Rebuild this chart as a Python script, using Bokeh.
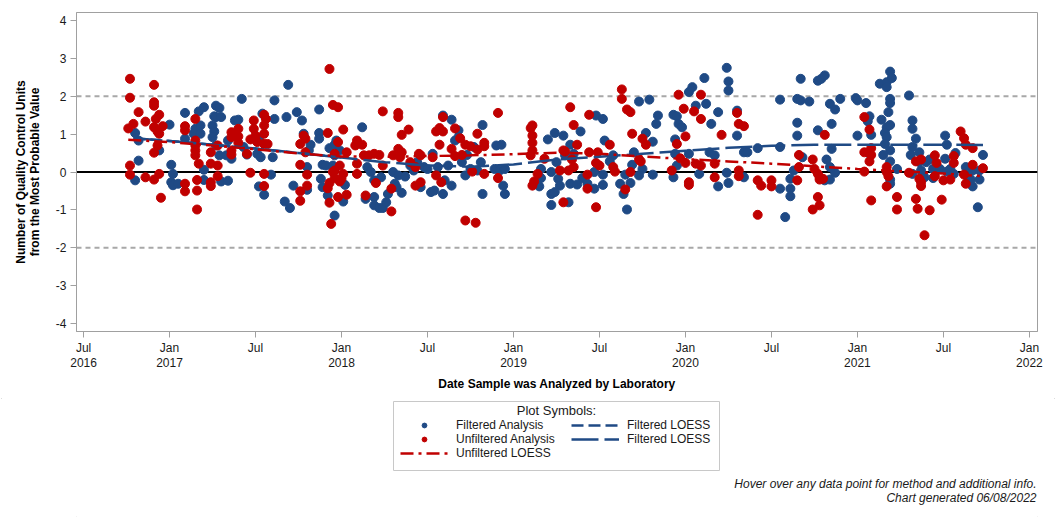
from bokeh.plotting import figure
from bokeh.layouts import column
from bokeh.models import Range1d, FixedTicker, Span, Legend, LegendItem, Label
from bokeh.embed import file_html
from bokeh.resources import INLINE

FONT = "Liberation Sans"
BLUE = "#1f4a85"
RED = "#c00000"
TXT = "#1a1a1a"

# ---------------- data (decimal year, QC units from MPV) ----------------
filtered_year = [
    2016.80, 2016.82, 2016.82, 2016.80, 2016.94, 2017.00, 2017.01, 2017.02, 2017.01, 2017.02,
    2017.05, 2017.09, 2017.09, 2017.14, 2017.15, 2017.17, 2017.20, 2017.18, 2017.18, 2017.20,
    2017.20, 2017.27, 2017.29, 2017.26, 2017.27, 2017.30, 2017.25, 2017.26, 2017.25, 2017.27,
    2017.29, 2017.30, 2017.34, 2017.34, 2017.33, 2017.36, 2017.38, 2017.40, 2017.42, 2017.43,
    2017.45, 2017.51, 2017.52, 2017.54, 2017.53, 2017.52, 2017.55, 2017.59, 2017.60, 2017.61,
    2017.61, 2017.68, 2017.69, 2017.72, 2017.67, 2017.70, 2017.74, 2017.77, 2017.78, 2017.82,
    2017.81, 2017.80, 2017.80, 2017.87, 2017.87, 2017.87, 2017.93, 2017.96, 2017.97, 2017.89,
    2017.91, 2017.95, 2017.88, 2017.89, 2017.92, 2017.96, 2017.96,
    2017.99, 2018.02, 2018.01, 2018.12, 2018.15, 2018.17, 2018.14,
    2018.19, 2018.19, 2018.19, 2018.22, 2018.24, 2018.23, 2018.26, 2018.27, 2018.30, 2018.31,
    2018.32, 2018.33, 2018.35, 2018.37, 2018.40, 2018.42, 2018.44, 2018.48, 2018.50, 2018.46,
    2018.52, 2018.53, 2018.54, 2018.56, 2018.59, 2018.59, 2018.60, 2018.62, 2018.64, 2018.64,
    2018.66, 2018.68, 2018.68, 2018.70, 2018.72, 2018.73, 2018.75, 2018.77, 2018.79, 2018.82,
    2018.82, 2018.81, 2018.89, 2018.90, 2018.93, 2018.92, 2018.94, 2018.95, 2018.95, 2019.16,
    2019.16, 2019.15, 2019.20, 2019.22, 2019.22, 2019.24, 2019.25, 2019.26, 2019.27, 2019.29,
    2019.30, 2019.32, 2019.33, 2019.22, 2019.24,
    2019.33, 2019.35, 2019.39, 2019.37, 2019.40, 2019.43,
    2019.47, 2019.47, 2019.48, 2019.52, 2019.52, 2019.52, 2019.53, 2019.56, 2019.58, 2019.62,
    2019.64, 2019.65, 2019.68, 2019.66, 2019.70, 2019.69, 2019.73, 2019.75, 2019.73, 2019.77,
    2019.79, 2019.81, 2019.83, 2019.84, 2019.81, 2019.93, 2019.95, 2019.96, 2019.98, 2019.94,
    2019.94, 2019.93, 2019.95, 2020.02, 2020.04, 2020.06, 2020.02, 2020.08, 2020.11, 2020.12,
    2020.15, 2020.14, 2020.17, 2020.19, 2020.19, 2020.24, 2020.25, 2020.25, 2020.24, 2020.25,
    2020.30, 2020.30, 2020.34, 2020.36, 2020.34, 2020.42, 2020.55, 2020.55, 2020.55, 2020.58,
    2020.61, 2020.61, 2020.61, 2020.63, 2020.65, 2020.65, 2020.65,
    2020.67, 2020.67, 2020.68, 2020.72, 2020.77, 2020.77, 2020.79, 2020.81, 2020.84, 2020.87,
    2020.90, 2020.85, 2020.85, 2020.82, 2020.84, 2020.87, 2020.84, 2020.81, 2020.99, 2021.00,
    2021.00, 2021.05, 2021.07, 2021.06, 2021.08, 2021.07, 2021.13, 2021.14, 2021.17, 2021.17,
    2021.19, 2021.20, 2021.19, 2021.19, 2021.18, 2021.19, 2021.17, 2021.16, 2021.17, 2021.16,
    2021.19, 2021.15, 2021.19, 2021.19, 2021.19, 2021.23, 2021.30, 2021.32, 2021.32, 2021.34,
    2021.32, 2021.31, 2021.36, 2021.36, 2021.32, 2021.37, 2021.39, 2021.40, 2021.42, 2021.44,
    2021.44, 2021.46, 2021.48, 2021.51, 2021.52, 2021.51, 2021.52, 2021.54, 2021.57, 2021.56,
    2021.63, 2021.64, 2021.67, 2021.66, 2021.67, 2021.73, 2021.71, 2021.71, 2021.70,
]
filtered_value = [
    1.03, 0.83, 0.30, -0.22, 0.57, 1.25, 0.19, -0.05, -0.27, -0.35,
    -0.31, 1.56, 0.88, 1.01, 1.14, 1.60, 1.71, 1.23, 1.01, 0.06,
    -0.21, 1.75, 1.69, 1.47, 1.45, 1.45, 1.23, 1.07, 0.92, 0.70,
    0.44, -0.25, -0.23, 0.83, 0.44, 0.35, 1.36, 1.38, 1.93, 0.66,
    0.46, 0.48, 0.86, 1.54, 0.39, -0.38, -0.60, -0.07, 0.39, 1.89,
    1.40, 1.45, 2.30, -0.36, -0.78, -0.95, 1.58, 1.36, 1.01, 0.72,
    0.57, 0.13, -0.47, 1.65, 1.03, 0.88, 0.63, 0.72, 0.83, 0.19,
    0.17, 0.17, -0.18, -0.40, -0.62, -1.15, 0.44,
    0.57, -0.34, -0.78, 1.18, 0.13, 0.00, -0.71,
    -0.66, -0.22, -0.88, -0.95, -0.95, -0.14, -0.80, -0.58, 0.00, -0.31,
    -0.40, -0.09, -0.55, -0.12, 0.17, 0.04, 0.26, 0.13, 0.08, -0.40,
    -0.53, 0.48, -0.49, 0.13, 1.49, -0.58, -0.22, 0.17, -0.36, 1.38,
    0.83, 1.10, 0.92, 0.26, -0.09, 0.45, 0.08, 0.66, 0.04, 1.24,
    -0.58, 0.26, 0.08, 0.70, 0.72, 0.04, -0.36, -0.58, 0.08, 0.08,
    -0.16, -0.38, 0.86, -0.58, -0.87, 1.03, 0.26, -0.18, -0.36, 0.96,
    0.44, -0.80, -0.31, 0.00, -0.53,
    0.72, 0.48, 1.07, -0.33, -0.16, -0.31,
    -0.44, 0.00, 1.49, 1.40, -0.07, -0.34, 0.83, 0.28, 0.44, -0.31,
    -0.58, -0.07, -0.29, -0.99, 0.52, 0.19, 1.86, 0.08, -0.09, 1.03,
    1.91, 0.80, 1.27, 1.49, -0.07, 1.51, 1.47, 1.27, 1.18, 0.86,
    0.48, -0.14, 0.17, 2.11, 2.24, 1.75, 0.48, -0.05, 2.48, 1.80,
    1.27, 0.52, 0.44, 1.58, -0.38, 2.75, 2.39, 2.15, -0.02, -0.29,
    1.62, 0.96, 0.52, 0.52, -0.14, 0.63, 1.91, 0.66, -0.44, -1.19,
    -0.18, -0.44, -0.64, 0.04, 1.93, 1.30, 0.96,
    2.46, 1.89, 0.39, 1.86, 1.10, 2.41, 2.46, 2.55, 1.80, 1.65,
    1.93, 1.27, 0.61, 0.33, 0.13, -0.02, -0.20, -0.22, 1.95, 1.89,
    0.96, 1.82, 1.47, 1.34, 0.98, 0.48, 2.33, 1.38, 2.37, 2.24,
    2.65, 2.48, 1.93, 1.82, 1.58, 1.24, 1.18, 1.03, 0.92, 0.74,
    0.57, 0.45, 0.28, -0.20, -0.31, 0.08, 2.02, 1.36, 1.14, 0.88,
    0.66, 0.45, 0.52, 0.26, -0.05, 0.04, -0.14, 0.26, 0.33, 0.08,
    -0.16, 0.04, 0.08, 0.96, 0.72, 0.35, 0.01, 0.08, 0.50, -0.05,
    0.13, -0.11, 0.04, -0.20, -0.38, 0.45, 0.04, -0.20, -0.93,
]

unfiltered_year = [
    2016.77, 2016.77, 2016.82, 2016.76, 2016.79, 2016.77, 2016.77, 2016.86, 2016.91, 2016.91,
    2016.91, 2016.94, 2016.92, 2016.91, 2016.93, 2016.94, 2016.96, 2016.86, 2016.93, 2016.91,
    2016.94, 2016.91, 2016.95, 2017.09, 2017.09, 2017.15, 2017.15, 2017.15, 2017.15, 2017.15,
    2017.17, 2017.09, 2017.09, 2017.16, 2017.16, 2017.16, 2017.24, 2017.24, 2017.28, 2017.28,
    2017.28, 2017.24, 2017.24, 2017.36, 2017.36, 2017.36, 2017.36, 2017.40, 2017.40, 2017.40,
    2017.45, 2017.47, 2017.49, 2017.49, 2017.50, 2017.51, 2017.47, 2017.55, 2017.56, 2017.55,
    2017.55, 2017.55, 2017.57, 2017.55, 2017.55, 2017.76, 2017.78, 2017.79, 2017.79, 2017.76,
    2017.80, 2017.80, 2017.76, 2017.76, 2017.92, 2017.93, 2017.95, 2017.98, 2017.95, 2017.96,
    2017.93, 2017.92, 2017.93, 2017.94, 2017.98, 2017.98, 2017.99,
    2018.01, 2017.96, 2017.99, 2017.96, 2018.00, 2018.01, 2018.03, 2018.03, 2018.08, 2018.09,
    2018.12, 2018.09, 2018.09, 2018.13, 2018.16, 2018.19, 2018.22, 2018.20, 2018.14, 2018.24,
    2018.24, 2018.30, 2018.29, 2018.29, 2018.33, 2018.33, 2018.35, 2018.33, 2018.35, 2018.34,
    2018.39, 2018.40, 2018.43, 2018.45, 2018.46, 2018.43, 2018.46, 2018.55, 2018.57, 2018.59,
    2018.59, 2018.57, 2018.55, 2018.53, 2018.58, 2018.64, 2018.66, 2018.66, 2018.69, 2018.70,
    2018.72, 2018.75, 2018.76, 2018.79, 2018.79, 2018.83, 2018.83, 2018.83, 2018.72, 2018.78,
    2018.91, 2018.91, 2019.10, 2019.10, 2019.11, 2019.11, 2019.11, 2019.11, 2019.14, 2019.12,
    2019.11, 2019.18, 2019.29, 2019.27, 2019.29, 2019.32, 2019.33,
    2019.30, 2019.35, 2019.34, 2019.35, 2019.37, 2019.43, 2019.43, 2019.44, 2019.44, 2019.48,
    2019.49, 2019.50, 2019.48, 2019.56, 2019.58, 2019.59, 2019.63, 2019.63, 2019.66, 2019.68,
    2019.69, 2019.68, 2019.65, 2019.75, 2019.77, 2019.73, 2019.74, 2019.92, 2019.95, 2019.96,
    2019.99, 2020.00, 2019.97, 2020.00, 2020.02, 2020.02, 2020.05, 2020.09, 2020.09, 2020.09,
    2020.06, 2020.17, 2020.17, 2020.21, 2020.30, 2020.31, 2020.34, 2020.31, 2020.31, 2020.42,
    2020.44, 2020.42, 2020.50, 2020.50, 2020.65, 2020.66, 2020.66,
    2020.74, 2020.75, 2020.77, 2020.78, 2020.80, 2020.78, 2020.77, 2020.78, 2020.74, 2020.81,
    2021.04, 2021.07, 2021.08, 2021.08, 2021.07, 2021.04, 2021.04, 2021.08, 2021.17, 2021.17,
    2021.18, 2021.17, 2021.23, 2021.23, 2021.30, 2021.34, 2021.37, 2021.36, 2021.37, 2021.37,
    2021.34, 2021.35, 2021.39, 2021.42, 2021.45, 2021.46, 2021.45, 2021.50, 2021.54, 2021.49,
    2021.56, 2021.56, 2021.60, 2021.62, 2021.63, 2021.67, 2021.67, 2021.73, 2021.62, 2021.63,
]
unfiltered_value = [
    2.46, 1.96, 1.58, 1.15, 1.27, 0.17, -0.07, -0.14, 2.30, 1.84,
    1.75, 1.51, 1.40, 1.18, 1.07, 1.01, 1.21, 1.33, 0.70, 0.51,
    -0.05, -0.20, -0.68, 1.21, 1.10, 1.40, 0.83, 0.70, 0.57, 0.44,
    0.22, -0.31, -0.51, -0.21, -0.49, -0.99, 0.52, 0.22, 0.70, 0.17,
    -0.11, -0.27, -0.37, 1.05, 0.92, 0.57, 0.46, 1.14, 0.94, 0.77,
    0.48, 0.86, 1.36, 1.14, 0.96, 0.79, -0.02, 1.51, 1.40, 1.23,
    1.01, 0.74, 0.74, -0.05, -0.37, 0.74, 0.96, 0.88, 0.52, 0.19,
    -0.07, -0.36, -0.51, -0.76, 1.03, 2.72, 1.77, 1.71, 0.00, -0.16,
    -0.29, -0.43, -0.81, -1.37, 0.79, -0.66, -0.25,
    1.12, 0.48, 0.17, 0.04, -0.18, -0.05, -0.60, 0.52, 0.70, 0.83,
    0.72, 0.22, -0.05, 0.44, 0.44, 0.48, 0.45, -0.29, -0.62, 1.60,
    0.17, 0.44, -0.44, -1.04, 1.56, 1.45, 0.98, 0.61, 0.52, 0.39,
    1.12, 0.26, 0.13, 0.48, -0.27, -0.36, 0.44, 1.07, 1.16, 1.07,
    1.45, 0.72, -0.09, 0.39, -0.27, 0.61, 0.42, 1.15, 0.89, 0.45,
    0.72, 0.68, 0.01, 1.01, 0.59, 0.77, 0.68, -0.05, -1.28, -1.34,
    1.56, -0.16, 0.44, 1.16, 1.23, 0.96, 0.77, 0.57, -0.05, -0.25,
    -0.36, 0.35, -0.80, 0.04, 0.57, 0.04, 1.71,
    0.54, 0.13, 0.33, 1.24, 0.72, -0.07, -0.44, 1.51, 0.52, 0.24,
    0.52, 0.17, -0.93, 0.72, 0.13, 0.01, 2.18, 1.93, 1.65, 1.58,
    1.01, 0.00, -0.46, 0.88, 0.72, 0.33, 0.28, 0.04, 0.74, 2.04,
    1.67, 0.94, 0.36, 0.24, -0.27, -0.34, 1.60, 2.04, 1.40, 0.17,
    0.22, 0.22, -0.14, 0.98, 1.56, 1.27, 1.21, 0.04, -0.11, -0.22,
    -0.36, -1.13, -0.22, -0.38, -0.22, 0.13, 0.45,
    0.33, 0.08, -0.05, -0.14, -0.18, -0.20, -0.66, -0.88, -0.99, 0.98,
    1.45, 1.12, 0.63, 0.45, 0.28, 0.52, 0.01, -0.75, 0.13, 0.00,
    -0.11, -0.38, -0.66, -0.99, -0.02, 0.28, 0.33, -0.18, -0.27, -0.37,
    -0.71, -0.97, -1.67, -1.01, 0.44, 0.24, -0.11, -0.22, -0.20, -0.73,
    0.42, 0.24, 1.07, 0.89, 0.72, 0.63, 0.19, 0.10, -0.07, -0.31,
]

filtered_loess_year = [2016.79, 2017.0, 2017.25, 2017.5, 2017.75, 2018.0, 2018.25, 2018.5, 2018.75,
                       2019.0, 2019.25, 2019.5, 2019.75, 2020.0, 2020.25, 2020.5, 2020.75, 2021.0,
                       2021.25, 2021.5, 2021.73]
filtered_loess_value = [0.89, 0.82, 0.72, 0.62, 0.50, 0.38, 0.26, 0.17, 0.14,
                        0.20, 0.33, 0.40, 0.48, 0.56, 0.64, 0.69, 0.72, 0.72,
                        0.72, 0.72, 0.71]
unfiltered_loess_year = [2016.76, 2017.0, 2017.25, 2017.5, 2017.75, 2018.0, 2018.25, 2018.5, 2018.75,
                         2019.0, 2019.25, 2019.5, 2019.75, 2020.0, 2020.25, 2020.5, 2020.75, 2021.0,
                         2021.25, 2021.5, 2021.73]
unfiltered_loess_value = [0.85, 0.79, 0.70, 0.60, 0.49, 0.41, 0.40, 0.42, 0.44,
                          0.47, 0.51, 0.48, 0.41, 0.34, 0.28, 0.22, 0.15, 0.08,
                          0.02, -0.04, -0.11]

x_tick_years = [2016.5, 2017.0, 2017.5, 2018.0, 2018.5, 2019.0, 2019.5, 2020.0, 2020.5,
                2021.0, 2021.5, 2022.0]
x_tick_labels = ["Jul\n2016", "Jan\n2017", "Jul", "Jan\n2018", "Jul", "Jan\n2019", "Jul",
                 "Jan\n2020", "Jul", "Jan\n2021", "Jul", "Jan\n2022"]
y_ticks = [-4, -3, -2, -1, 0, 1, 2, 3, 4]

# ---------------- main plot ----------------
p = figure(width=1056, height=398, output_backend="svg", toolbar_location=None,
           x_range=Range1d(2016.459, 2022.047), y_range=Range1d(-4.21, 4.21),
           min_border_left=76, min_border_right=19, min_border_top=12, min_border_bottom=67)
p.grid.visible = False
p.outline_line_color = "#a0a0a0"
p.outline_line_width = 1

for ax in (p.xaxis[0], p.yaxis[0]):
    ax.axis_line_color = "#a0a0a0"
    ax.major_tick_line_color = "#a0a0a0"
    ax.major_tick_out = 6
    ax.major_tick_in = 0
    ax.minor_tick_line_color = None
    ax.major_label_text_font = FONT
    ax.major_label_text_font_size = "12px"
    ax.major_label_text_color = TXT
    ax.axis_label_text_font = FONT
    ax.axis_label_text_font_size = "12px"
    ax.axis_label_text_font_style = "bold"
    ax.axis_label_text_color = "black"

p.xaxis.ticker = FixedTicker(ticks=x_tick_years)
p.xaxis.major_label_overrides = {t: l for t, l in zip(x_tick_years, x_tick_labels)}
p.xaxis.major_label_text_line_height = 1.1
p.xaxis.major_label_standoff = 3
p.xaxis.axis_label = "Date Sample was Analyzed by Laboratory"
p.xaxis.axis_label_standoff = 4

p.yaxis.ticker = FixedTicker(ticks=y_ticks)
p.yaxis.major_label_overrides = {t: str(t) for t in y_ticks}
p.yaxis.major_label_standoff = 4
p.yaxis.axis_label = "Number of Quality Control Units\nfrom the Most Probable Value"
p.yaxis.axis_label_text_line_height = 1.0
p.yaxis.axis_label_standoff = 11

for loc, col, dash in [(2, "#a8a8a8", "5 4"), (-2, "#a8a8a8", "5 4"), (0, "black", "solid")]:
    p.add_layout(Span(location=loc, dimension="width", line_color=col, line_dash=dash,
                      line_width=2, level="underlay"))

p.scatter(filtered_year, filtered_value, size=9, fill_color=BLUE, line_color=BLUE)
p.scatter(unfiltered_year, unfiltered_value, size=9, fill_color=RED, line_color=RED)
p.line(filtered_loess_year[:6], filtered_loess_value[:6], line_color=BLUE, line_width=2.5,
       line_dash="12 5")
p.line(filtered_loess_year, filtered_loess_value, line_color=BLUE, line_width=2.5, line_dash="27 6")
p.line(unfiltered_loess_year, unfiltered_loess_value, line_color=RED, line_width=2.5,
       line_dash="13 5 3 5")

# ---------------- legend / footer strip (frame aligned with the plot above) ----------------
q = figure(width=1056, height=120, output_backend="svg", toolbar_location=None,
           x_range=Range1d(76, 1037), y_range=Range1d(0, 120),
           x_axis_type=None, y_axis_type=None,
           min_border_left=76, min_border_right=19, min_border_top=0, min_border_bottom=0)
q.grid.visible = False
q.outline_line_color = None

q.quad(left=[393], right=[719], top=[117], bottom=[48], fill_color="white",
       line_color="#c8c8c8", line_width=1)

off = [-100]
k_f = q.scatter(off, off, size=7, fill_color=BLUE, line_color=BLUE)
k_u = q.scatter(off, off, size=7, fill_color=RED, line_color=RED)
k_ul = q.line([-200, -100], off * 2, line_color=RED, line_width=2.5, line_dash="13 5 3 5")
k_f1 = q.line([-200, -100], off * 2, line_color=BLUE, line_width=2.5, line_dash="12 5")
k_f2 = q.line([-200, -100], off * 2, line_color=BLUE, line_width=2.5, line_dash="27 6")


def make_legend(items, loc):
    lg = Legend(items=items, location=loc, orientation="vertical")
    lg.label_text_font = FONT
    lg.label_text_font_size = "12px"
    lg.label_text_color = TXT
    lg.glyph_width = 48
    lg.glyph_height = 12
    lg.label_height = 12
    lg.spacing = 0
    lg.padding = 0
    lg.margin = 0
    lg.label_standoff = 8
    lg.border_line_color = None
    lg.background_fill_alpha = 0
    return lg


leg_a = make_legend([LegendItem(label="Filtered Analysis", renderers=[k_f]),
                     LegendItem(label="Unfiltered Analysis", renderers=[k_u]),
                     LegendItem(label="Unfiltered LOESS", renderers=[k_ul])], (324, 58))
leg_b = make_legend([LegendItem(label="Filtered LOESS", renderers=[k_f1]),
                     LegendItem(label="Filtered LOESS", renderers=[k_f2])], (495, 72))
q.add_layout(leg_a, "center")
q.add_layout(leg_b, "center")

q.add_layout(Label(x=480, y=108, x_units="screen", y_units="screen", text="Plot Symbols:",
                   text_align="center", text_baseline="middle", text_font=FONT,
                   text_font_size="13px", text_color=TXT))
q.add_layout(Label(x=960, y=35, x_units="screen", y_units="screen",
                   text="Hover over any data point for method and additional info.",
                   text_align="right", text_baseline="middle", text_font=FONT,
                   text_font_size="12px", text_font_style="italic", text_color=TXT))
q.add_layout(Label(x=960, y=21, x_units="screen", y_units="screen",
                   text="Chart generated 06/08/2022",
                   text_align="right", text_baseline="middle", text_font=FONT,
                   text_font_size="12px", text_font_style="italic", text_color=TXT))

layout = column(p, q, spacing=0,
                styles={"outline": "1px solid #d0d0d0", "outline-offset": "-2px"})
open("out.html", "w").write(file_html(layout, INLINE))
